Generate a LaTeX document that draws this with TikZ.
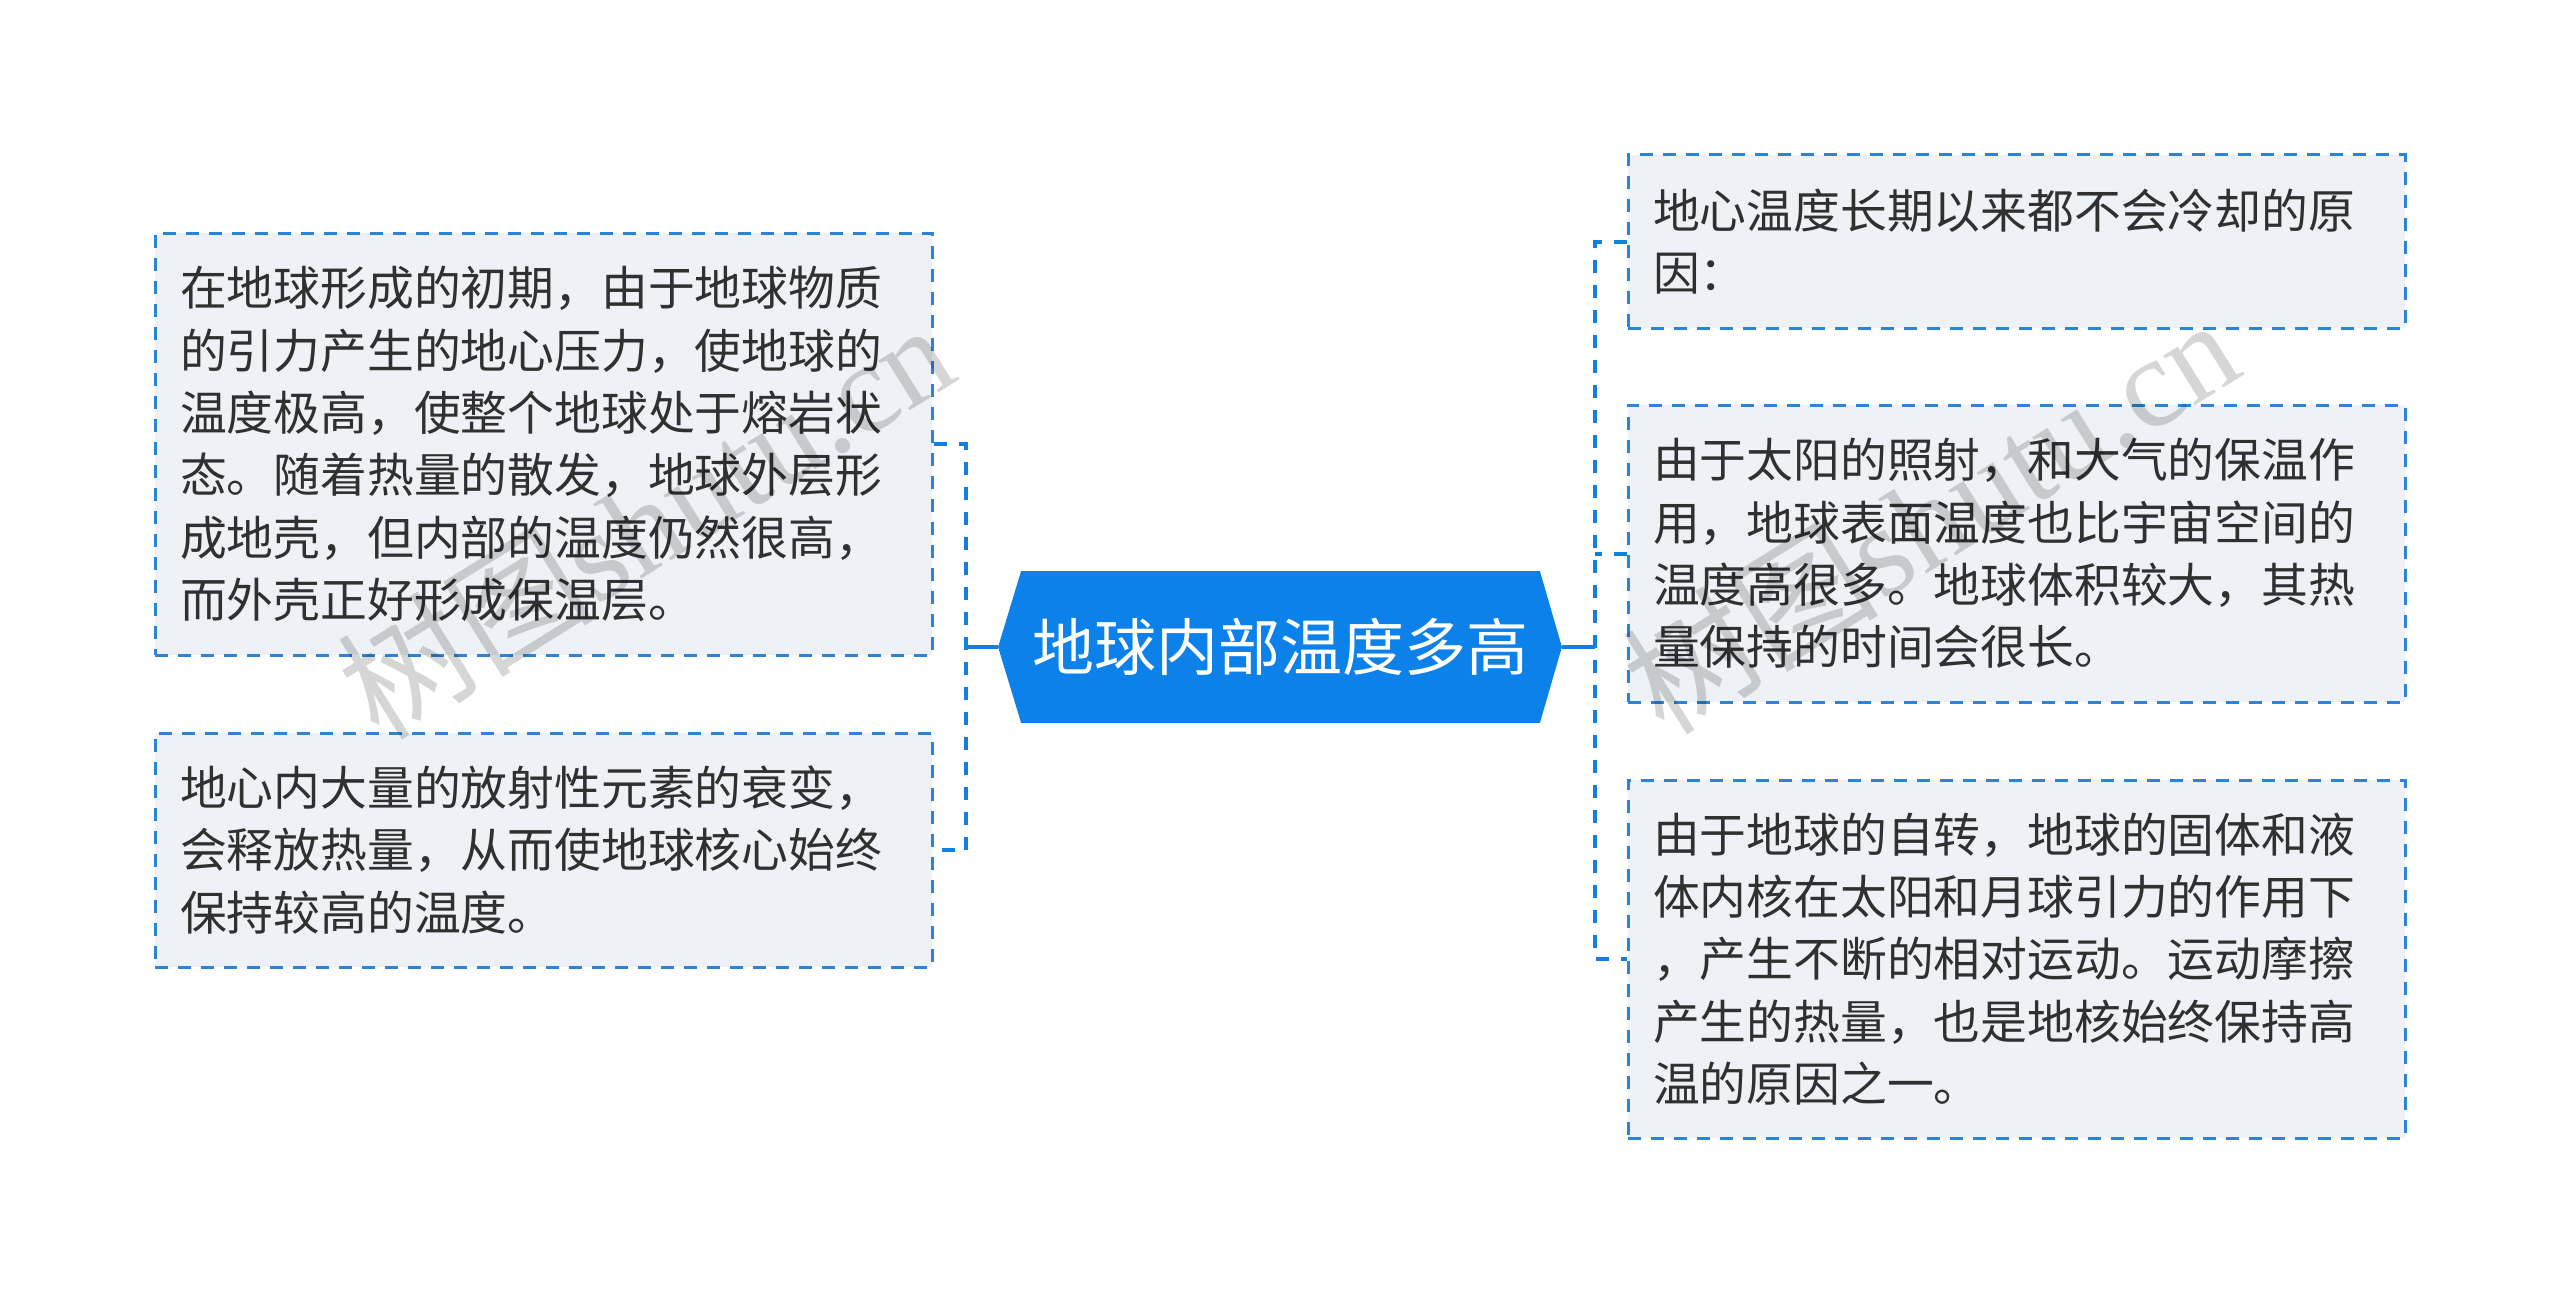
\documentclass[tikz,border=0pt]{standalone}
\usepackage{fontspec}
\setmainfont{Noto Sans CJK SC}
\newfontfamily\wmlatin{Liberation Serif}
\usetikzlibrary{backgrounds,calc}
\definecolor{mainblue}{RGB}{12,129,234}
\definecolor{lineblue}{RGB}{20,125,224}
\definecolor{borderblue}{RGB}{44,132,214}
\definecolor{boxfill}{RGB}{238,241,245}
\definecolor{textgray}{RGB}{48,48,48}
\begin{document}
\begin{tikzpicture}[x=0.5pt,y=-0.5pt,
  leaf/.style={draw=borderblue, line width=1.5pt, dash pattern=on 6.5pt off 5pt,
    fill=boxfill, text=textgray, font=\fontsize{23.4}{31.2}\selectfont,
    align=left, inner xsep=12.5pt, inner ysep=0pt, text width=363.5pt},
  rootnode/.style={inner sep=0pt, minimum width=281.5pt, minimum height=75.5pt,
    text=white, font=\fontsize{31}{31}\selectfont},
  conn/.style={draw=lineblue, line width=2pt},
  dconn/.style={conn, dash pattern=on 6.5pt off 6pt},
  wmark/.style={text=black, opacity=0.16, font=\fontsize{64}{64}\selectfont, inner sep=0pt}]
\useasboundingbox (0,0) rectangle (2560,1295);

% central node
\node[rootnode] (c) at (1280,647) {地球内部温度多高};

% left boxes
\node[leaf, minimum height=211pt] (L1) at (543.5,444) {在地球形成的初期，由于地球物质\\的引力产生的地心压力，使地球的\\温度极高，使整个地球处于熔岩状\\态。随着热量的散发，地球外层形\\成地壳，但内部的温度仍然很高，\\而外壳正好形成保温层。};
\node[leaf, minimum height=117pt] (L2) at (543.5,850) {地心内大量的放射性元素的衰变，\\会释放热量，从而使地球核心始终\\保持较高的温度。};

% right boxes
\node[leaf, minimum height=86.5pt] (R1) at (2016.5,241.5) {地心温度长期以来都不会冷却的原\\因：};
\node[leaf, minimum height=148.5pt] (R2) at (2016.5,553.5) {由于太阳的照射，和大气的保温作\\用，地球表面温度也比宇宙空间的\\温度高很多。地球体积较大，其热\\量保持的时间会很长。};
\node[leaf, minimum height=179pt] (R3) at (2016.5,959) {由于地球的自转，地球的固体和液\\体内核在太阳和月球引力的作用下\\，产生不断的相对运动。运动摩擦\\产生的热量，也是地核始终保持高\\温的原因之一。};

\begin{scope}[on background layer]
  \fill[white] (0,0) rectangle (2560,1295);
  \fill[mainblue] (c.west) -- ([xshift=11.5pt]c.north west) -- ([xshift=-11pt]c.north east)
    -- (c.east) -- ([xshift=-11pt]c.south east) -- ([xshift=11.5pt]c.south west) -- cycle;
\end{scope}

% connectors
\coordinate (lj) at (966,647);
\coordinate (rj) at (1595,647);
\draw[conn] (c.west) -- (lj);
\draw[dconn] (L1.east) -- (L1.east -| lj) -- (L2.east -| lj) -- (L2.east);
\draw[conn] (c.east) -- (rj);
\draw[dconn] (R1.west) -- (R1.west -| rj) -- (R3.west -| rj) -- (R3.west);
\draw[dconn] (R2.west) -- (R2.west -| rj);

% watermarks
\node[wmark, rotate=32] (wm1) at (645,519) {树图{\wmlatin shutu.cn}};
\node[wmark, rotate=32] (wm2) at (1930,514) {树图{\wmlatin shutu.cn}};
\end{tikzpicture}
\end{document}
